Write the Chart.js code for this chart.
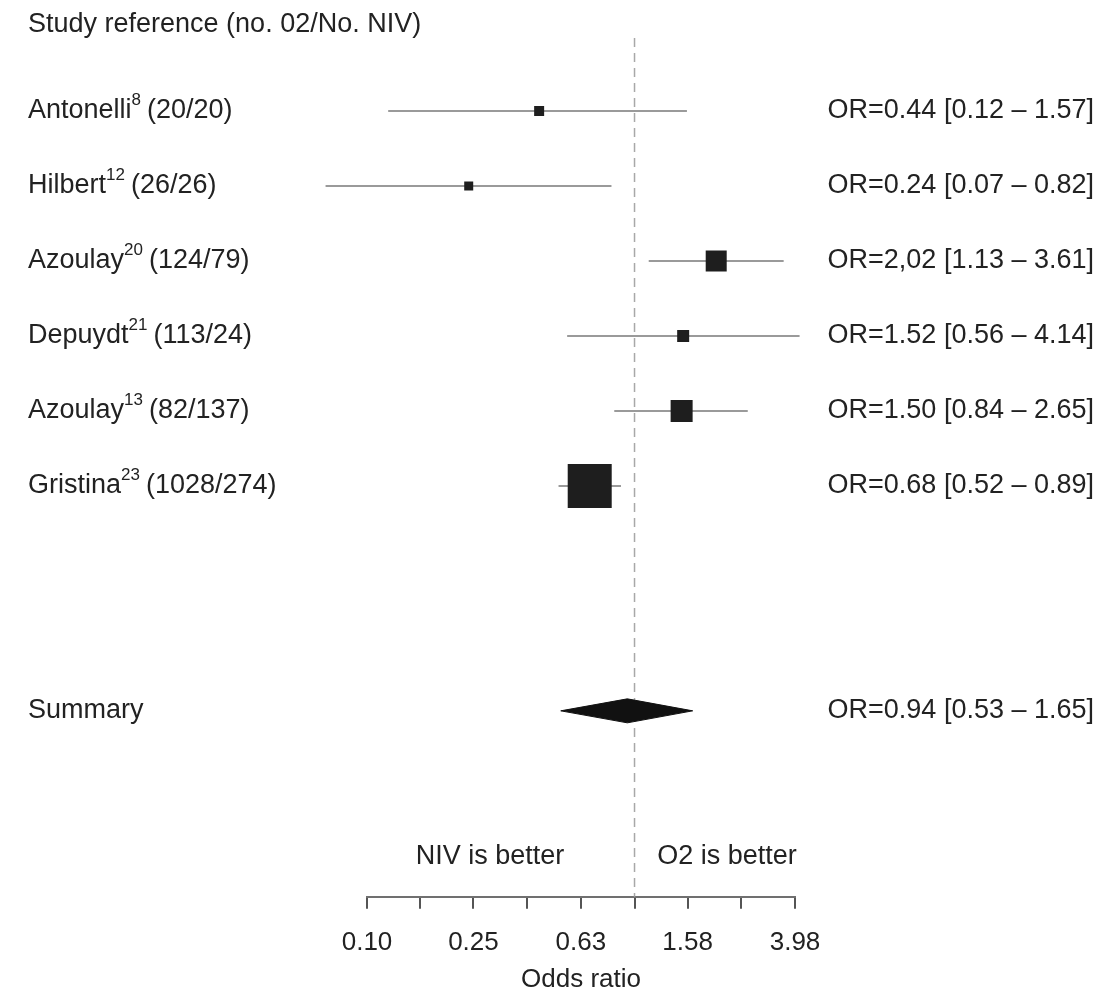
<!DOCTYPE html>
<html>
<head>
<meta charset="utf-8">
<script src="https://cdn.jsdelivr.net/npm/chart.js@4"></script>
<style>
  body { margin: 0; background: #fff; }
  #wrap { width: 1101px; height: 995px; }
</style>
</head>
<body>
<div id="wrap"><canvas id="forest"></canvas></div>
<script>
const studies = ['Antonelli', 'Hilbert', 'Azoulay', 'Depuydt', 'Azoulay', 'Gristina'];
const refs = ['8', '12', '20', '21', '13', '23'];
const counts = ['(20/20)', '(26/26)', '(124/79)', '(113/24)', '(82/137)', '(1028/274)'];
const oddsRatio = [0.44, 0.24, 2.02, 1.52, 1.50, 0.68];
const ciLow = [0.12, 0.07, 1.13, 0.56, 0.84, 0.52];
const ciHigh = [1.57, 0.82, 3.61, 4.14, 2.65, 0.89];
const orText = ['0.44', '0.24', '2,02', '1.52', '1.50', '0.68'];
const boxSize = [10, 9, 21, 12, 22, 44];
const summary = { or: 0.94, low: 0.53, high: 1.65 };
const summaryRow = 8;
const tickValues = [0.10, 0.158, 0.25, 0.398, 0.63, 1.0, 1.58, 2.51, 3.98];
const tickLabels = ['0.10', '', '0.25', '', '0.63', '', '1.58', '', '3.98'];

const FONT = '"Liberation Sans", Arial, sans-serif';
const datasets = [];

// markers first so they are drawn on top of the CI lines
datasets.push({
  data: oddsRatio.map((v, i) => ({ x: v, y: i })),
  pointStyle: 'rect',
  pointRadius: boxSize.map(s => s / Math.SQRT2),
  backgroundColor: '#1e1e1e', borderColor: '#1e1e1e', borderWidth: 0
});
studies.forEach((s, i) => {
  datasets.push({
    data: [{ x: ciLow[i], y: i }, { x: ciHigh[i], y: i }],
    showLine: true, borderColor: '#9a9a9a', borderWidth: 2, pointRadius: 0, clip: false
  });
});
const h = 0.16;
datasets.push({
  data: [
    { x: summary.low, y: summaryRow }, { x: summary.or, y: summaryRow - h },
    { x: summary.high, y: summaryRow }, { x: summary.or, y: summaryRow + h },
    { x: summary.low, y: summaryRow }
  ],
  showLine: true, fill: 'shape', backgroundColor: '#111', borderColor: '#111',
  borderWidth: 1, pointRadius: 0
});

const textPlugin = {
  id: 'forestText',
  beforeDatasetsDraw(chart) {
    const { ctx, scales: { x } } = chart;
    const x1 = x.getPixelForValue(1);
    ctx.save();
    ctx.strokeStyle = '#a8a8a8';
    ctx.lineWidth = 1.5;
    ctx.setLineDash([9, 6]);
    ctx.beginPath();
    ctx.moveTo(x1, 38);
    ctx.lineTo(x1, chart.chartArea.bottom);
    ctx.stroke();
    ctx.restore();
  },
  afterDraw(chart) {
    const { ctx, scales: { x, y } } = chart;
    ctx.save();
    ctx.fillStyle = '#222';
    ctx.textBaseline = 'middle';
    ctx.font = '27px ' + FONT;
    ctx.textAlign = 'left';
    ctx.fillText('Study reference (no. 02/No. NIV)', 28, 25);
    studies.forEach((s, i) => {
      const py = y.getPixelForValue(i);
      ctx.font = '27px ' + FONT;
      ctx.textAlign = 'left';
      ctx.fillText(s, 28, py);
      let w = ctx.measureText(s).width;
      ctx.font = '17px ' + FONT;
      ctx.fillText(refs[i], 28 + w, py - 11);
      w += ctx.measureText(refs[i]).width + 6;
      ctx.font = '27px ' + FONT;
      ctx.fillText(counts[i], 28 + w, py);
      ctx.textAlign = 'right';
      ctx.fillText('OR=' + orText[i] + ' [' + ciLow[i].toFixed(2) + ' \u2013 ' + ciHigh[i].toFixed(2) + ']', 1094, py);
    });
    const sy = y.getPixelForValue(summaryRow);
    ctx.textAlign = 'left';
    ctx.fillText('Summary', 28, sy);
    ctx.textAlign = 'right';
    ctx.fillText('OR=0.94 [0.53 \u2013 1.65]', 1094, sy);
    ctx.textAlign = 'center';
    ctx.fillText('NIV is better', 490, 857);
    ctx.fillText('O2 is better', 727, 857);
    ctx.font = '26px ' + FONT;
    ctx.fillText('Odds ratio', (x.left + x.right) / 2, 980);
    ctx.restore();
  }
};

new Chart(document.getElementById('forest'), {
  type: 'scatter',
  data: { datasets },
  plugins: [textPlugin],
  options: {
    responsive: true,
    maintainAspectRatio: false,
    animation: false,
    layout: { padding: { left: 367, right: 306, top: 36, bottom: 19 } },
    plugins: { legend: { display: false }, tooltip: { enabled: false } },
    scales: {
      y: { display: false, reverse: true, min: -1, max: 10.48 },
      x: {
        type: 'logarithmic', min: 0.1, max: 3.98,
        afterBuildTicks: (scale) => { scale.ticks = tickValues.map(v => ({ value: v })); },
        border: { color: '#707070', width: 2 },
        grid: { drawOnChartArea: false, color: '#555', lineWidth: 2, tickLength: 12 },
        ticks: {
          autoSkip: false, maxRotation: 0, color: '#222', padding: 18,
          font: { family: FONT, size: 26 },
          callback: (v, i) => tickLabels[i]
        }
      }
    }
  }
});
</script>
</body>
</html>
